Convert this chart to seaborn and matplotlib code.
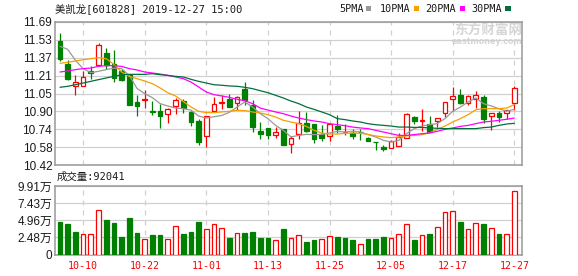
import numpy as np
import pandas as pd
import matplotlib
matplotlib.use("Agg")
import matplotlib.pyplot as plt
import seaborn as sns
from matplotlib.patches import Rectangle

# ---------------- data ----------------
title_text = "美凯龙[601828] 2019-12-27 15:00"
volume_text = "成交量:92041"
date_labels = ["10-10", "10-22", "11-01", "11-13", "11-25", "12-05", "12-17", "12-27"]
date_idx = [3, 11, 19, 27, 35, 43, 51, 59]
price_ticks = ["10.42", "10.58", "10.74", "10.90", "11.05", "11.21", "11.37", "11.53", "11.69"]
vol_ticks = ["0", "2.48万", "4.96万", "7.43万", "9.91万"]

opens = [11.521, 11.317, 11.122, 11.119, 11.255, 11.311, 11.415, 11.317, 11.252, 11.216,
         10.980, 11.000, 10.897, 10.900, 10.870, 10.947, 10.991, 10.888, 10.811, 10.675,
         10.897, 10.968, 11.003, 10.968, 11.092, 10.950, 10.725, 10.749, 10.683, 10.740,
         10.604, 10.698, 10.790, 10.784, 10.698, 10.675, 10.766, 10.710, 10.704, 10.713,
         10.663, 10.624, 10.580, 10.574, 10.592, 10.657, 10.843, 10.811, 10.784, 10.811,
         10.882, 11.003, 11.045, 10.974, 11.003, 11.021, 10.852, 10.882, 10.885, 10.968]
closes = [11.358, 11.187, 11.154, 11.199, 11.234, 11.483, 11.311, 11.193, 11.178, 10.956,
          10.947, 11.009, 10.891, 10.855, 10.914, 10.994, 10.923, 10.805, 10.624, 10.858,
          10.959, 10.979, 10.938, 11.027, 10.997, 10.755, 10.698, 10.683, 10.710, 10.601,
          10.660, 10.790, 10.719, 10.654, 10.660, 10.784, 10.737, 10.716, 10.675, 10.710,
          10.633, 10.621, 10.562, 10.633, 10.672, 10.873, 10.808, 10.823, 10.710, 10.840,
          10.980, 11.030, 10.974, 11.033, 11.040, 10.826, 10.882, 10.843, 10.912, 11.101]
highs = [11.592, 11.352, 11.216, 11.252, 11.299, 11.501, 11.459, 11.441, 11.276, 11.231,
         11.045, 11.086, 10.991, 10.962, 10.926, 11.015, 11.003, 10.897, 10.832, 10.858,
         11.027, 11.039, 11.051, 11.036, 11.157, 10.994, 10.802, 10.749, 10.760, 10.740,
         10.675, 10.897, 10.891, 10.784, 10.772, 10.784, 10.861, 10.784, 10.743, 10.743,
         10.666, 10.624, 10.601, 10.645, 10.704, 10.885, 10.852, 10.917, 10.855, 10.840,
         10.980, 11.113, 11.092, 11.045, 11.074, 11.045, 10.882, 10.903, 10.912, 11.122]
lows = [11.341, 11.178, 11.045, 11.119, 11.187, 11.296, 11.276, 11.157, 11.169, 10.956,
        10.852, 10.926, 10.867, 10.749, 10.796, 10.876, 10.885, 10.766, 10.601, 10.583,
        10.891, 10.914, 10.932, 10.908, 10.950, 10.713, 10.648, 10.654, 10.663, 10.595,
        10.530, 10.654, 10.713, 10.618, 10.636, 10.636, 10.707, 10.683, 10.648, 10.645,
        10.630, 10.556, 10.547, 10.574, 10.592, 10.657, 10.787, 10.725, 10.710, 10.757,
        10.849, 10.897, 10.965, 10.950, 10.926, 10.796, 10.728, 10.802, 10.832, 10.912]
volumes_wan = [4.76, 4.47, 3.30, 2.96, 2.96, 6.46, 5.05, 4.61, 2.57, 5.34,
               3.16, 2.28, 2.86, 2.86, 2.23, 4.13, 3.01, 3.30, 4.76, 3.69,
               4.42, 3.88, 2.43, 3.11, 3.16, 3.30, 2.43, 2.43, 2.14, 3.74,
               2.38, 2.82, 1.84, 2.14, 2.23, 2.67, 2.57, 2.43, 2.14, 1.55,
               2.28, 2.28, 2.57, 2.38, 2.96, 4.42, 2.14, 2.82, 3.01, 3.98,
               6.17, 6.31, 4.76, 3.69, 4.56, 4.47, 3.83, 3.01, 3.01, 9.20]
ma5 = [11.474, 11.447, 11.350, 11.276, 11.240, 11.252, 11.267, 11.280, 11.276, 11.216,
       11.100, 11.054, 11.018, 10.965, 10.944, 10.926, 10.920, 10.908, 10.855, 10.837,
       10.849, 10.860, 10.888, 10.935, 10.980, 10.935, 10.876, 10.832, 10.772, 10.728,
       10.669, 10.683, 10.692, 10.690, 10.692, 10.704, 10.719, 10.713, 10.719, 10.713,
       10.690, 10.669, 10.639, 10.624, 10.639, 10.698, 10.743, 10.766, 10.778, 10.787,
       10.832, 10.897, 10.935, 10.980, 11.015, 10.965, 10.944, 10.920, 10.897, 10.914]
ma10 = [11.323, 11.332, 11.344, 11.355, 11.364, 11.373, 11.364, 11.314, 11.246, 11.207,
        11.187, 11.166, 11.142, 11.104, 11.062, 11.033, 10.985, 10.935, 10.897, 10.885,
        10.885, 10.891, 10.897, 10.906, 10.903, 10.891, 10.882, 10.867, 10.846, 10.817,
        10.802, 10.787, 10.763, 10.728, 10.704, 10.695, 10.695, 10.701, 10.704, 10.701,
        10.692, 10.678, 10.669, 10.663, 10.669, 10.678, 10.683, 10.690, 10.704, 10.737,
        10.766, 10.802, 10.832, 10.867, 10.911, 10.920, 10.920, 10.920, 10.926, 10.956]
ma20 = [11.246, 11.255, 11.267, 11.276, 11.281, 11.296, 11.302, 11.302, 11.296, 11.276,
        11.264, 11.246, 11.237, 11.228, 11.216, 11.202, 11.187, 11.157, 11.113, 11.068,
        11.045, 11.033, 11.021, 11.003, 10.991, 10.965, 10.926, 10.908, 10.891, 10.876,
        10.855, 10.837, 10.823, 10.811, 10.802, 10.787, 10.778, 10.769, 10.757, 10.749,
        10.743, 10.728, 10.713, 10.698, 10.683, 10.683, 10.690, 10.698, 10.704, 10.719,
        10.737, 10.749, 10.763, 10.772, 10.787, 10.802, 10.808, 10.817, 10.826, 10.837]
ma30 = [11.110, 11.119, 11.133, 11.148, 11.163, 11.178, 11.193, 11.207, 11.222, 11.225,
        11.225, 11.225, 11.231, 11.222, 11.216, 11.207, 11.202, 11.181, 11.163, 11.148,
        11.133, 11.128, 11.122, 11.119, 11.110, 11.098, 11.080, 11.062, 11.039, 11.015,
        10.988, 10.965, 10.935, 10.914, 10.891, 10.867, 10.832, 10.823, 10.811, 10.802,
        10.787, 10.778, 10.772, 10.766, 10.757, 10.757, 10.754, 10.754, 10.749, 10.746,
        10.743, 10.743, 10.743, 10.743, 10.743, 10.752, 10.757, 10.772, 10.784, 10.790]

ma_names = ["5PMA", "10PMA", "20PMA", "30PMA"]
ma_colors = ["#999999", "#f5a000", "#ff00ff", "#006f3c"]

# ---------------- style ----------------
sns.set_style("white")
plt.rcParams["font.family"] = ["Liberation Sans", "Noto Sans CJK SC", "DejaVu Sans"]
MONO = ["DejaVu Sans Mono", "Noto Sans CJK SC"]
RED = "#ff0000"
GREEN = "#008000"
GRID = "#d0d0d0"
FRAME = "#999999"
TXT = "#1a1a1a"

W, H = 578, 276
fig = plt.figure(figsize=(W / 100, H / 100), dpi=100)


def rect(l, t, r, b):
    return [l / W, 1 - b / H, (r - l) / W, (b - t) / H]


ax = fig.add_axes(rect(55, 22, 522, 165))
axv = fig.add_axes(rect(55, 186, 522, 254.5))

o = np.array(opens)
c = np.array(closes)
hi = np.array(highs)
lo = np.array(lows)
v = np.array(volumes_wan)
x = np.arange(len(o))
up = c > o
vol_up = np.r_[up[0], c[1:] > c[:-1]]

# watermark (behind plots)
ax.set_facecolor("none")
axv.set_facecolor("none")
fig.text(522 / W, 1 - 29.5 / H, "东方财富网", ha="right", va="center", fontsize=9.8,
         fontweight="bold", color="#d6d6d6", family=["Noto Sans CJK SC"], zorder=-5)
fig.text(522 / W, 1 - 41.5 / H, "eastmoney.com", ha="right", va="center", fontsize=5.8,
         fontweight="bold", color="#d6d6d6", family=["DejaVu Sans"], zorder=-5)

# ---------------- price panel ----------------
body_lo = np.minimum(o, c)
body_h = np.maximum(np.abs(c - o), 0.006)
ax.vlines(x, lo, hi, colors=[RED if u else GREEN for u in up], lw=0.9, zorder=3)
ax.bar(x, body_h, bottom=body_lo, width=0.62,
       facecolor=["white" if u else GREEN for u in up],
       edgecolor=[RED if u else GREEN for u in up], lw=0.9, zorder=4)

df = pd.DataFrame({"x": x, "5PMA": ma5, "10PMA": ma10, "20PMA": ma20, "30PMA": ma30})
for name, col in zip(ma_names, ma_colors):
    sns.lineplot(data=df, x="x", y=name, ax=ax, color=col, lw=0.9, zorder=5)

ymin, ymax = 10.42, 11.69
ax.set_ylim(ymin, ymax)
ax.set_xlim(-0.65, 60.0)
ax.set_yticks(np.linspace(ymin, ymax, len(price_ticks)))
ax.set_yticklabels(price_ticks)
ax.set_xticks([])
ax.set_xlabel("")
ax.set_ylabel("")

# ---------------- volume panel ----------------
axv.bar(x, v, width=0.62,
        facecolor=["white" if u else GREEN for u in vol_up],
        edgecolor=[RED if u else GREEN for u in vol_up], lw=0.9, zorder=4)
axv.set_xlim(-0.65, 60.0)
vmax = 9.91
axv.set_ylim(0, vmax)
axv.set_yticks(np.linspace(0, vmax, len(vol_ticks)))
axv.set_yticklabels(vol_ticks)
axv.set_xticks(date_idx)
axv.set_xticklabels(date_labels, family=MONO, fontsize=7.2, color=RED)

for a in (ax, axv):
    a.yaxis.grid(True, color=GRID, lw=0.9, zorder=0)
    a.xaxis.grid(False)
    for p in date_idx:
        a.axvline(p, color=GRID, lw=0.9, ls=(0, (4, 4)), zorder=1)
    for s in a.spines.values():
        s.set_visible(True)
        s.set_color(FRAME)
        s.set_linewidth(1.1)
    a.tick_params(axis="y", length=0, pad=2, labelsize=8.5, labelcolor=TXT)
    a.tick_params(axis="x", length=0, pad=5)
    a.set_axisbelow(True)

# ---------------- texts ----------------
fig.text(55 / W, 1 - 8.5 / H, title_text, ha="left", va="center", fontsize=7.5,
         family=MONO, color=TXT)
fig.text(57 / W, 1 - 177 / H, volume_text, ha="left", va="center", fontsize=7.5,
         family=MONO, color=TXT)

leg_text_x = [339, 380, 425.5, 471.5]
leg_sq_x = [365.5, 413.5, 459.5, 505]
for name, col, tx, sx in zip(ma_names, ma_colors, leg_text_x, leg_sq_x):
    fig.text(tx / W, 1 - 8.5 / H, name, ha="left", va="center", fontsize=7.3,
             family=MONO, color=TXT)
    fig.patches.append(Rectangle((sx / W, 1 - 11 / H), 5.5 / W, 5 / H,
                                 transform=fig.transFigure, facecolor=col,
                                 edgecolor="none"))

fig.savefig("out.png", dpi=100)
